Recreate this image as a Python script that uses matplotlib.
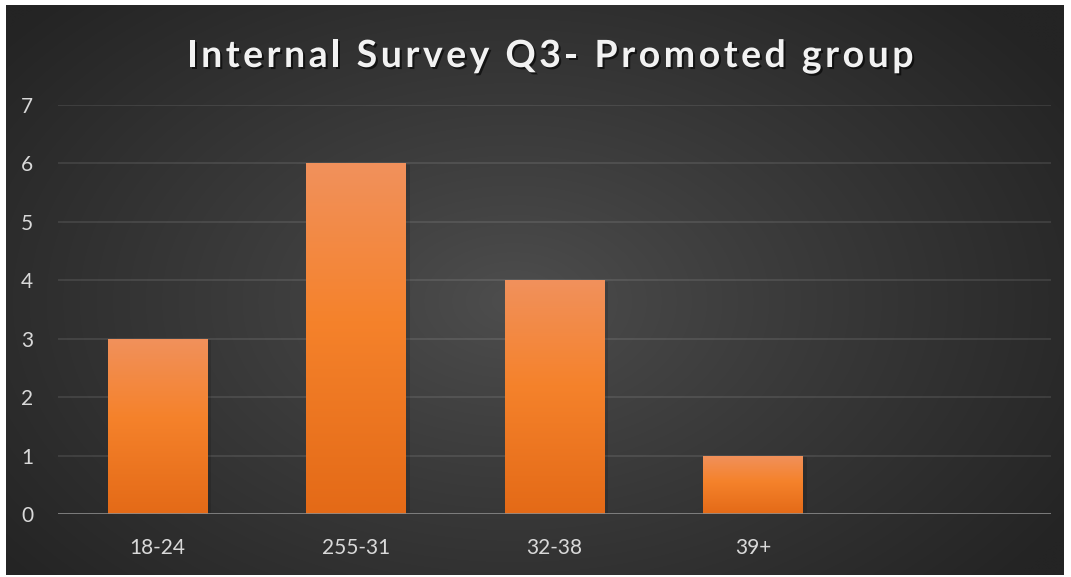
import numpy as np
import matplotlib
matplotlib.use("Agg")
import matplotlib.pyplot as plt
from matplotlib import patheffects
from matplotlib.colors import LinearSegmentedColormap, to_rgb

categories = ["18-24", "255-31", "32-38", "39+"]
counts = [3, 6, 4, 1]
y_ticks = [0, 1, 2, 3, 4, 5, 6, 7]
title = "Internal Survey Q3- Promoted group"

W, H = 1071, 577
FONT = "Lato"


def spaced_text(fig, text, x_center, y_base, width_px, **kw):
    """Draw text char by char, spreading it to width_px (letter spacing)."""
    renderer = fig.canvas.get_renderer()
    probe = fig.text(0, 0, "|", **kw)
    bar_w = probe.get_window_extent(renderer).width
    advances = []
    for i in range(len(text) + 1):
        probe.set_text(text[:i] + "|")
        advances.append(probe.get_window_extent(renderer).width - bar_w)
    probe.remove()
    natural = advances[-1]
    gap = max(0.0, (width_px - natural) / (len(text) - 1))
    left = x_center - (natural + gap * (len(text) - 1)) / 2
    for i, ch in enumerate(text):
        if ch == " ":
            continue
        fig.text((left + advances[i] + gap * i) / W, 1 - y_base / H, ch,
                 ha="left", va="baseline", **kw)


fig = plt.figure(figsize=(W / 100, H / 100), dpi=100, facecolor="white")

# dark panel with a soft radial glow
panel = fig.add_axes([6 / W, 1 - 575 / H, (1064 - 6) / W, (575 - 5) / H])
panel.set_axis_off()
yy, xx = np.mgrid[0:1:300j, 0:1:560j]
r = np.sqrt(((xx - 0.48) / 0.62) ** 2 + ((yy - 0.52) / 0.75) ** 2)
t = np.clip(r, 0, 1) ** 0.9
c_in, c_out = np.array(to_rgb("#4e4e4e")), np.array(to_rgb("#242424"))
bg = c_in[None, None, :] * (1 - t[..., None]) + c_out[None, None, :] * t[..., None]
panel.imshow(bg, aspect="auto", extent=(0, 1, 0, 1), interpolation="bilinear")
panel.set_xlim(0, 1)
panel.set_ylim(0, 1)

ax = fig.add_axes([58 / W, 1 - 514 / H, (1051 - 58) / W, (514 - 105) / H])
ax.set_facecolor("none")

x = np.arange(len(categories))
bars = ax.bar(x, counts, width=0.5, color="#f58025", zorder=3,
              path_effects=[patheffects.withSimplePatchShadow(
                  offset=(3, -1), shadow_rgbFace="black", alpha=0.12)])

bar_cmap = LinearSegmentedColormap.from_list(
    "bar", [(0.0, "#e46a17"), (0.55, "#f5822b"), (1.0, "#f1915c")])
grad = np.linspace(0, 1, 256)[:, None]
for rect in bars:
    x0 = rect.get_x()
    img = ax.imshow(grad, extent=(x0, x0 + rect.get_width(), 0, rect.get_height()),
                    origin="lower", aspect="auto", cmap=bar_cmap, zorder=4)
    img.set_clip_path(rect)

for yv in y_ticks[1:]:
    ax.axhline(yv, color="white", alpha=0.1, lw=1.3, zorder=1)
ax.axhline(0, color="#8c8c8c", lw=1.9, zorder=5)

ax.set_xlim(-0.5, 4.5)
ax.set_ylim(0, 7)
ax.set_yticks(y_ticks)
ax.set_xticks(x)
ax.set_xticklabels(categories)
for s in ax.spines.values():
    s.set_visible(False)
ax.tick_params(length=0, colors="#d9d9d9", labelsize=15)
ax.tick_params(axis="y", pad=18)
ax.tick_params(axis="x", pad=17)
for lab in ax.get_xticklabels() + ax.get_yticklabels():
    lab.set_fontfamily(FONT)

spaced_text(fig, title, 550, 67, 727,
            fontsize=27, fontweight="bold", family=FONT, color="#f2f2f2",
            path_effects=[patheffects.withSimplePatchShadow(
                offset=(1.5, -1.5), shadow_rgbFace="black", alpha=0.6)])

fig.savefig("out.png", dpi=100)
